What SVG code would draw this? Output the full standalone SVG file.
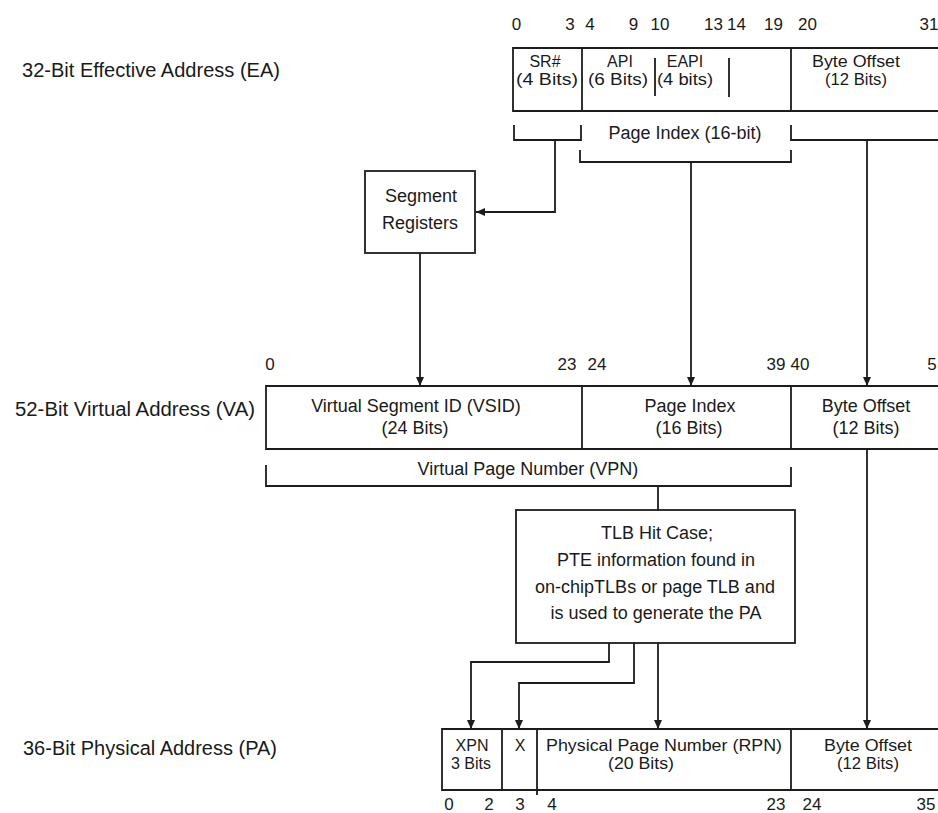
<svg xmlns="http://www.w3.org/2000/svg" width="938" height="813" viewBox="0 0 938 813">
<style>
.ln{stroke:#1c1c1c;stroke-width:1.8;fill:none}
.bx{stroke:#1c1c1c;stroke-width:1.8;fill:#fff}
.t{font-family:"Liberation Sans",Arial,Helvetica,sans-serif;font-size:18px;fill:#1a1a1a}
.m{text-anchor:middle}
.lbl{font-size:20px}
.num{font-size:17px;text-anchor:middle}
.sm{font-size:16px}
</style>
<defs>
<marker id="ah" markerUnits="userSpaceOnUse" markerWidth="10" markerHeight="8" refX="9" refY="4" orient="auto">
<path d="M0,0 L9,4 L0,8 z" fill="#1c1c1c"/>
</marker>
</defs>
<rect width="938" height="813" fill="#fff"/>

<g id="labels">
<text class="t lbl" x="22" y="77" textLength="258" lengthAdjust="spacingAndGlyphs">32-Bit Effective Address (EA)</text>
<text class="t lbl" x="15" y="416" textLength="240" lengthAdjust="spacingAndGlyphs">52-Bit Virtual Address (VA)</text>
<text class="t lbl" x="23" y="755" textLength="254" lengthAdjust="spacingAndGlyphs">36-Bit Physical Address (PA)</text>
</g>

<g id="ea">
<path class="ln" d="M938,48 H513 V111 H938"/>
<path class="ln" d="M582,48 V111 M791,48 V111 M655,58 V96 M729,58 V97"/>
<g class="t num">
<text x="516.5" y="30">0</text><text x="570" y="30">3</text><text x="590" y="30">4</text>
<text x="633.5" y="30">9</text><text x="660" y="30">10</text><text x="713.5" y="30">13</text>
<text x="736.5" y="30">14</text><text x="773.5" y="30">19</text><text x="807.5" y="30">20</text>
<text x="929" y="30">31</text>
</g>
<g class="t m sm">
<text x="545" y="67">SR#</text><text x="547" y="85" textLength="62" lengthAdjust="spacingAndGlyphs">(4 Bits)</text>
<text x="620" y="67">API</text><text x="618" y="85" textLength="60" lengthAdjust="spacingAndGlyphs">(6 Bits)</text>
<text x="685" y="67">EAPI</text><text x="685" y="85" textLength="56" lengthAdjust="spacingAndGlyphs">(4 bits)</text>
<text x="856" y="67" textLength="88" lengthAdjust="spacingAndGlyphs">Byte Offset</text><text x="856" y="85" textLength="62" lengthAdjust="spacingAndGlyphs">(12 Bits)</text>
</g>
</g>

<g id="ea-brackets">
<path class="ln" d="M514,125 V140 H581 V125"/>
<path class="ln" d="M580,150 V162 H791 V150"/>
<path class="ln" d="M791,125 V140 H938"/>
<text class="t m" x="685" y="139">Page Index (16-bit)</text>
</g>

<g id="segment-registers">
<rect class="bx" x="365" y="171" width="110" height="82"/>
<text class="t m" x="421" y="202">Segment</text>
<text class="t m" x="420" y="229">Registers</text>
</g>

<g id="va">
<path class="ln" d="M938,386 H266 V449 H938"/>
<path class="ln" d="M582,386 V449 M791,386 V449"/>
<g class="t num">
<text x="270" y="370">0</text><text x="567" y="370">23</text><text x="597" y="370">24</text>
<text x="776" y="370">39</text><text x="800" y="370">40</text><text x="932" y="370">5</text>
</g>
<g class="t m">
<text x="416" y="412">Virtual Segment ID (VSID)</text><text x="415" y="434">(24 Bits)</text>
<text x="690" y="412">Page Index</text><text x="689" y="434">(16 Bits)</text>
<text x="866" y="412">Byte Offset</text><text x="866" y="434">(12 Bits)</text>
</g>
</g>

<g id="vpn">
<path class="ln" d="M266,465 V486 H791 V467"/>
<text class="t m" x="528" y="475">Virtual Page Number (VPN)</text>
</g>

<g id="tlb">
<rect class="bx" x="516" y="510" width="279" height="133"/>
<g class="t m">
<text x="657" y="539">TLB Hit Case;</text>
<text x="656" y="566">PTE information found in</text>
<text x="655" y="593">on-chipTLBs or page TLB and</text>
<text x="656" y="619">is used to generate the PA</text>
</g>
</g>

<g id="pa">
<path class="ln" d="M938,729 H442 V790 H938"/>
<path class="ln" d="M502,729 V790 M537,729 V795 M791,729 V790"/>
<g class="t m sm">
<text x="472" y="751">XPN</text><text x="471" y="769">3 Bits</text>
<text x="520" y="751">X</text>
<text x="664" y="751" textLength="236" lengthAdjust="spacingAndGlyphs">Physical Page Number (RPN)</text><text x="641" y="769" textLength="66" lengthAdjust="spacingAndGlyphs">(20 Bits)</text>
<text x="868" y="751" textLength="88" lengthAdjust="spacingAndGlyphs">Byte Offset</text><text x="868" y="769" textLength="62" lengthAdjust="spacingAndGlyphs">(12 Bits)</text>
</g>
<g class="t num">
<text x="449" y="810">0</text><text x="489" y="810">2</text><text x="520" y="810">3</text>
<text x="552" y="810">4</text><text x="776" y="810">23</text><text x="812" y="810">24</text>
<text x="926" y="810">35</text>
</g>
</g>

<g id="connectors">
<path class="ln" d="M555,140 V212 H476" marker-end="url(#ah)"/>
<path class="ln" d="M691,162 V386" marker-end="url(#ah)"/>
<path class="ln" d="M867,140 V386" marker-end="url(#ah)"/>
<path class="ln" d="M420,253 V386" marker-end="url(#ah)"/>
<path class="ln" d="M658,486 V510"/>
<path class="ln" d="M609,643 V662 H471 V729" marker-end="url(#ah)"/>
<path class="ln" d="M634,643 V683 H519 V729" marker-end="url(#ah)"/>
<path class="ln" d="M658,643 V729" marker-end="url(#ah)"/>
<path class="ln" d="M867,449 V729" marker-end="url(#ah)"/>
</g>
</svg>
